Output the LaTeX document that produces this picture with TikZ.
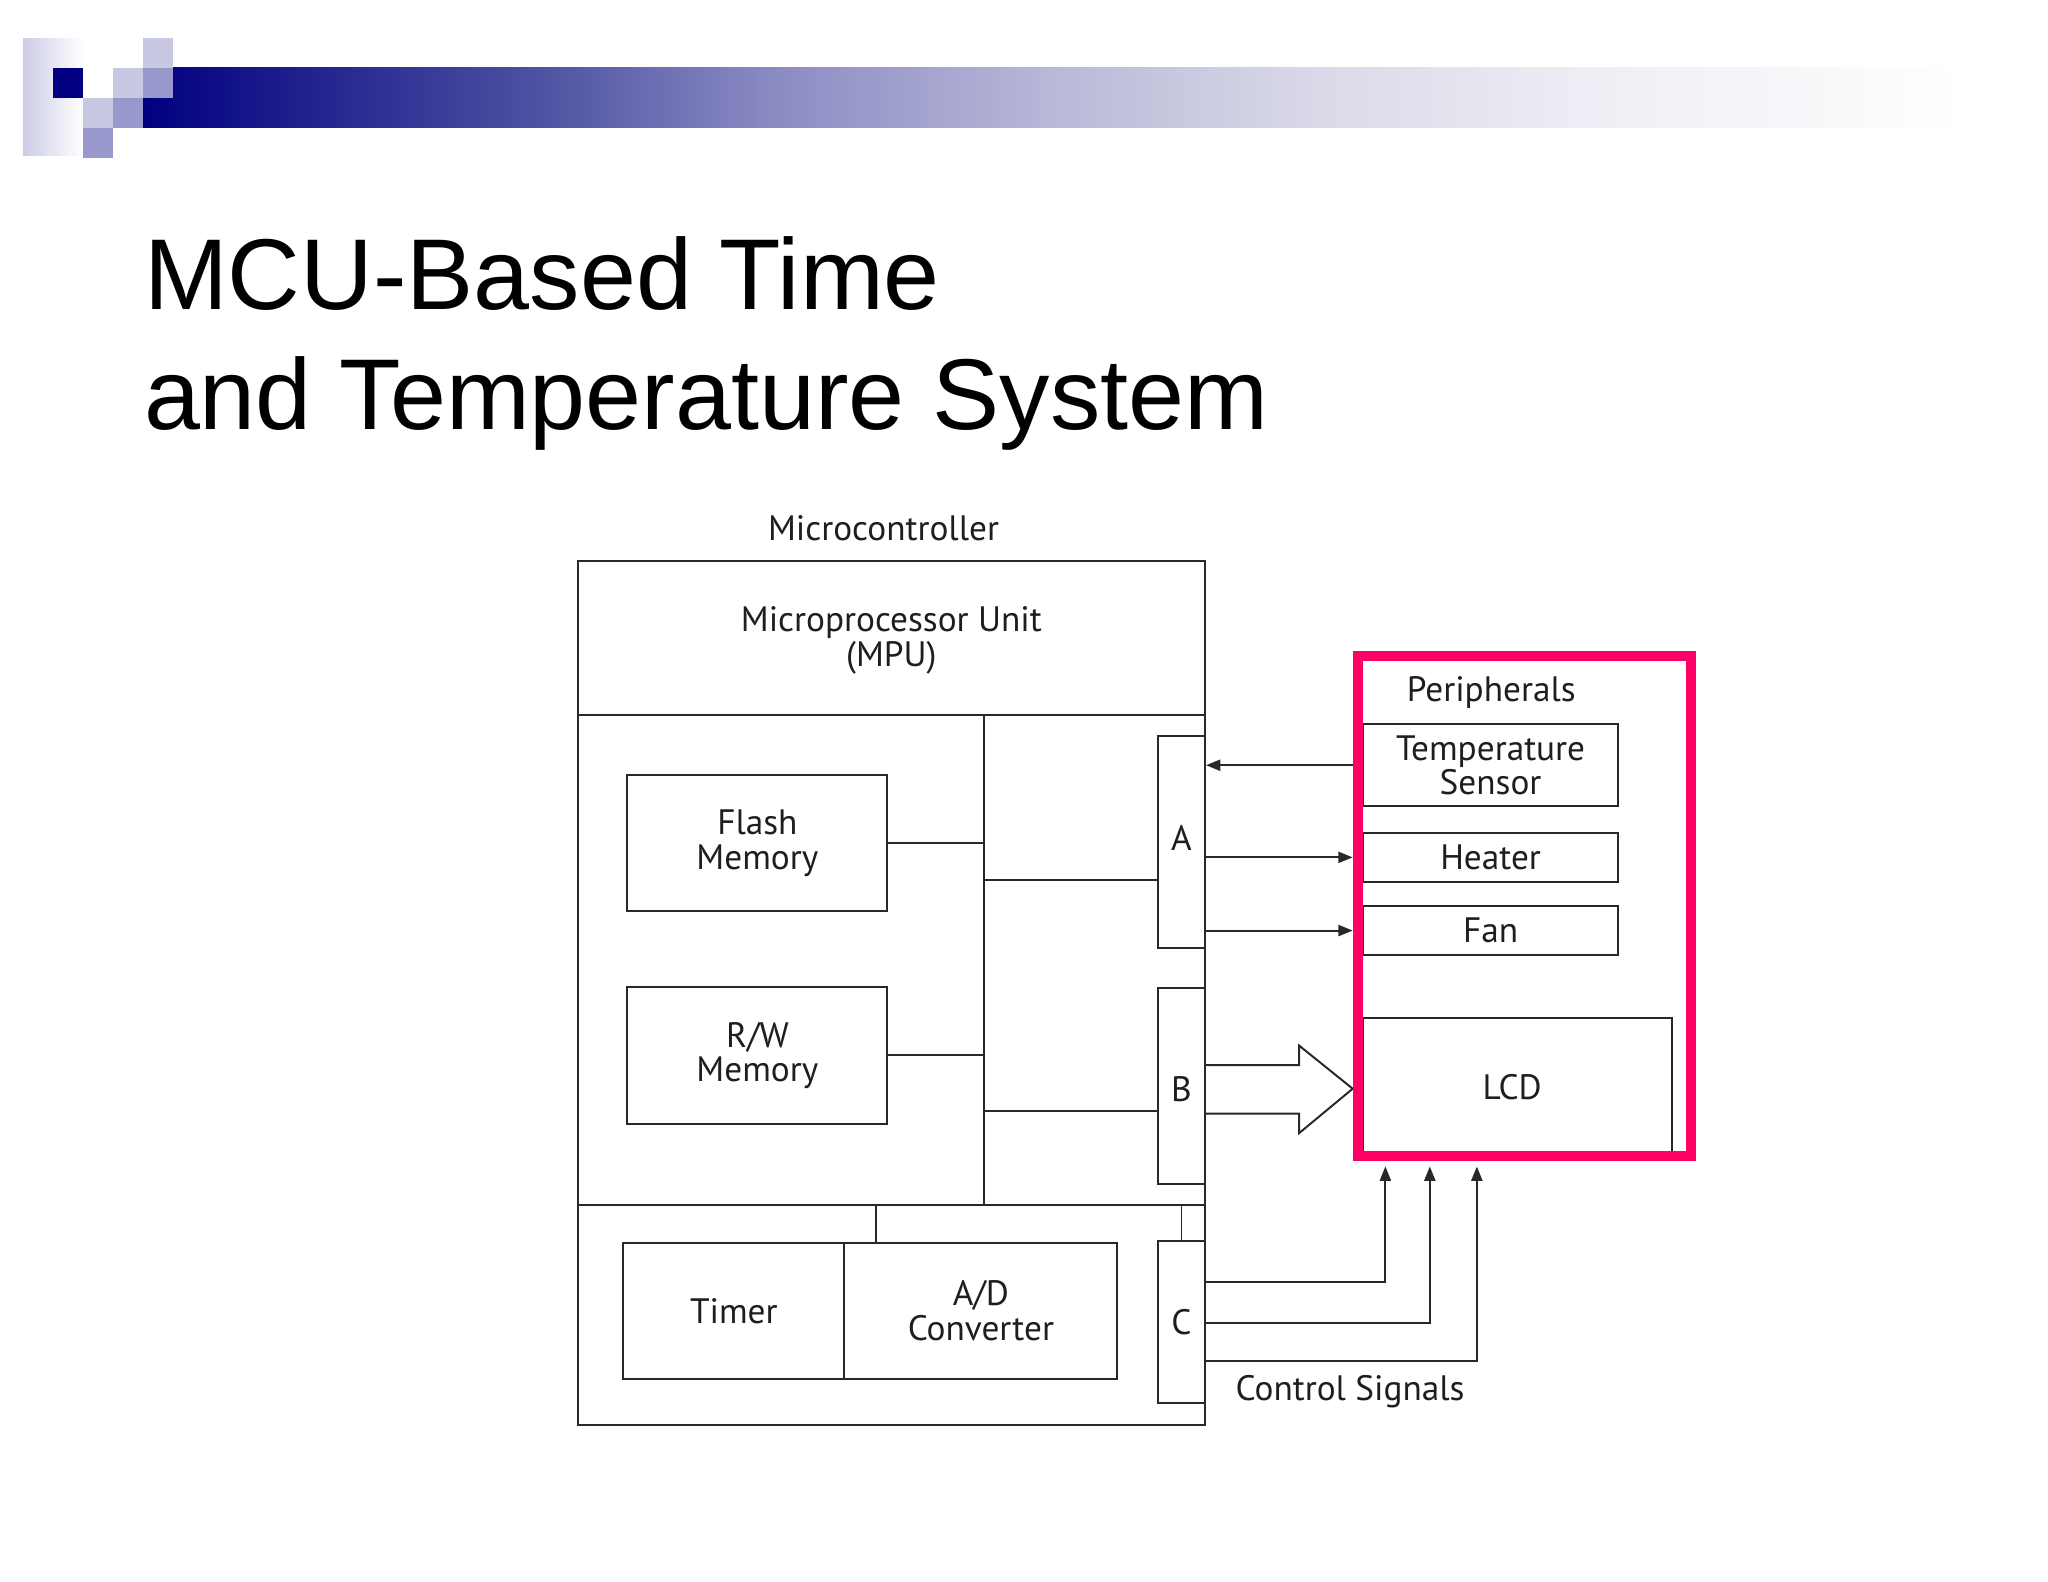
\documentclass[tikz,border=0pt]{standalone}
\usepackage{fontspec}
\setmainfont{Liberation Sans}
\newfontfamily\diagfam{PT Sans}
\usetikzlibrary{arrows.meta,calc}

\definecolor{navyc}{RGB}{0,0,128}
\definecolor{sqlight}{RGB}{200,200,226}
\definecolor{sqmed}{RGB}{152,152,204}
\definecolor{stripc}{RGB}{204,204,230}
\definecolor{barA}{RGB}{74,79,160}
\definecolor{barB}{RGB}{140,140,196}
\definecolor{barC}{RGB}{184,184,216}
\definecolor{barD}{RGB}{216,216,232}
\definecolor{barE}{RGB}{236,236,244}
\definecolor{pinkc}{RGB}{255,0,102}
\definecolor{linec}{RGB}{40,40,40}
\definecolor{textc}{RGB}{30,30,30}

\pgfdeclarehorizontalshading{barshade}{100bp}{color(0bp)=(navyc); color(25bp)=(navyc); color(35.5bp)=(barA); color(42.5bp)=(barB); color(50bp)=(barC); color(57bp)=(barD); color(64bp)=(barE); color(75bp)=(white); color(100bp)=(white)}
\pgfdeclarehorizontalshading{stripshade}{100bp}{color(0bp)=(stripc); color(25bp)=(stripc); color(75bp)=(white); color(100bp)=(white)}

\newcommand{\diagfont}{\diagfam\fontsize{27}{26.5}\selectfont}
\newcommand{\vshift}[2]{\raisebox{#1}[\height][\depth]{#2}}

\begin{document}
\begin{tikzpicture}[x=1pt,y=-1pt,
  box/.style={draw=linec, line width=1.5pt, inner sep=0pt, align=center, font=\diagfont, text=textc},
  lbl/.style={font=\diagfont, text=textc, inner sep=0pt},
  wire/.style={draw=linec, line width=1.5pt},
  arr/.style={wire, -{Triangle[length=11pt,width=8.5pt]}},
  titletext/.style={anchor=base west, inner sep=0pt, font=\fontsize{77}{92}\selectfont}
]
\useasboundingbox (0,0) rectangle (1567,1210.4);

% header decoration
\shade[shading=stripshade] (17.6,29.1) rectangle (63.5,118.6);
\shade[shading=barshade] (109.4,52.0) rectangle (1500,97.9);
\fill[navyc] (40.6,52.0) rectangle (63.5,75.0);
\fill[sqlight] (109.4,29.1) rectangle (132.4,52.0);
\fill[sqlight] (86.5,52.0) rectangle (109.4,75.0);
\fill[sqmed] (109.4,52.0) rectangle (132.4,75.0);
\fill[sqlight] (63.5,75.0) rectangle (86.5,97.9);
\fill[sqmed] (86.5,75.0) rectangle (109.4,97.9);
\fill[sqmed] (63.5,97.9) rectangle (86.5,120.9);

% title
\node[titletext] (title1) at (110,236.6) {MCU-Based Time};
\node[titletext] (title2) at (110,328.3) {and Temperature System};

% microcontroller
\node[lbl] (mclabel) at (676,404) {Microcontroller};
\node[box, minimum width=480pt, minimum height=661pt] (mcu) at (682,759.5) {};
\node[box, minimum width=480pt, minimum height=118pt] (mpu) at (682,488) {\vshift{-3pt}{\begin{tabular}{@{}c@{}}Microprocessor Unit\\[-0.5pt](MPU)\end{tabular}}};
\node[box, minimum width=480pt, minimum height=168pt] (lower) at (682,1006) {};
\coordinate (busT) at (753,547);
\coordinate (busB) at (753,922);
\draw[wire] (busT) -- (busB);

\node[box, minimum width=199pt, minimum height=104pt] (flash) at (579.5,645) {Flash\\Memory};
\node[box, minimum width=199pt, minimum height=105pt] (rw) at (579.5,807.5) {R/W\\Memory};
\draw[wire] (flash.east) -- (flash.east -| busT);
\draw[wire] (rw.east) -- (rw.east -| busT);

\node[box, minimum width=36pt, minimum height=162pt] (pA) at (904,644) {\vshift{3pt}{A}};
\node[box, minimum width=36pt, minimum height=150pt] (pB) at (904,831) {\vshift{-2pt}{B}};
\node[box, minimum width=36pt, minimum height=124pt] (pC) at (904,1011.5) {C};
\coordinate (busA) at (753,673);
\coordinate (busBp) at (753,850);
\draw[wire] (busA) -- (busA -| pA.west);
\draw[wire] (busBp) -- (busBp -| pB.west);

\node[box, minimum width=169pt, minimum height=104pt] (timer) at (561.5,1003) {Timer};
\node[box, minimum width=209pt, minimum height=104pt] (adc) at (750.5,1003) {A/D\\Converter};
\coordinate (adT) at (670,922);
\draw[wire] (adT) -- (adT |- adc.north);
\draw[wire] (pC.north) -- (pC.north |- lower.north);

% peripherals
\node[box, minimum width=195pt, minimum height=63pt] (temp) at (1140.5,585.5) {Temperature\\Sensor};
\node[box, minimum width=195pt, minimum height=38pt] (heater) at (1140.5,656) {Heater};
\node[box, minimum width=195pt, minimum height=38pt] (fan) at (1140.5,712) {Fan};
\node[box, minimum width=236pt, minimum height=105pt] (lcd) at (1161,831.5) {\hspace*{-8pt}LCD};

\coordinate (pW) at (1039,693);
\draw[arr] (temp.west -| pW) -- (temp.west -| pA.east);
\draw[arr, shorten >=4pt] (pA.east |- heater.west) -- (heater.west -| pW);
\draw[arr, shorten >=4pt] (pA.east |- fan.west) -- (fan.west -| pW);

% big arrow B -> LCD
\coordinate (bt) at (922,815);
\coordinate (bb) at (922,852);
\coordinate (bigTip) at ($(lcd.west -| pW)+(-4,1.5)$);
\draw[wire, line join=miter] (bt) -- (994,815) -- (994,800) -- (bigTip) -- (994,867) -- (994,852) -- (bb);

\node[draw=pinkc, line width=8pt, minimum width=255pt, minimum height=382.5pt, inner sep=0pt] (periph) at (1166.5,693.25) {};
\node[lbl] (plabel) at (1141,530) {Peripherals};

% control signals
\coordinate (cs1) at (1060,981);
\coordinate (cs2) at (1094,1012);
\coordinate (cs3) at (1130,1041);
\draw[arr, shorten >=4pt] (pC.east |- cs1) -| (cs1 |- periph.south);
\draw[arr, shorten >=4pt] (pC.east |- cs2) -| (cs2 |- periph.south);
\draw[arr, shorten >=4pt] (pC.east |- cs3) -| (cs3 |- periph.south);
\node[lbl] (cslabel) at (1033,1065) {Control Signals};
\end{tikzpicture}
\end{document}
